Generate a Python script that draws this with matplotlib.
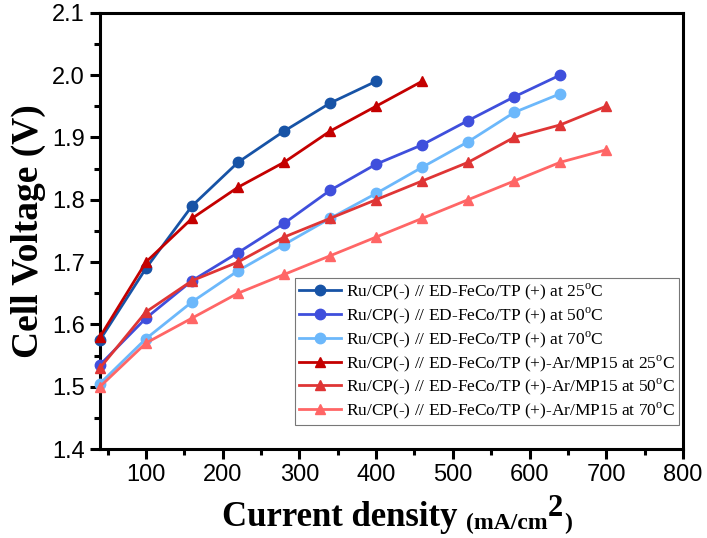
import numpy as np
import matplotlib
matplotlib.use("Agg")
import matplotlib.pyplot as plt
from matplotlib.ticker import MultipleLocator

# current density (mA/cm2)
x_all = [40, 100, 160, 220, 280, 340, 400, 460, 520, 580, 640, 700]

# cell voltage (V)
v_tp_25 = [1.575, 1.69, 1.79, 1.86, 1.91, 1.955, 1.99]
v_tp_50 = [1.535, 1.61, 1.67, 1.715, 1.762, 1.815, 1.857, 1.888, 1.927, 1.965, 2.0]
v_tp_70 = [1.505, 1.577, 1.636, 1.686, 1.728, 1.77, 1.81, 1.852, 1.893, 1.94, 1.97]
v_ar_25 = [1.58, 1.70, 1.77, 1.82, 1.86, 1.91, 1.95, 1.99]
v_ar_50 = [1.53, 1.62, 1.67, 1.70, 1.74, 1.77, 1.80, 1.83, 1.86, 1.90, 1.92, 1.95]
v_ar_70 = [1.50, 1.57, 1.61, 1.65, 1.68, 1.71, 1.74, 1.77, 1.80, 1.83, 1.86, 1.88]

labels = [
    r"Ru/CP(-) // ED-FeCo/TP (+) at 25$^{\rm o}$C",
    r"Ru/CP(-) // ED-FeCo/TP (+) at 50$^{\rm o}$C",
    r"Ru/CP(-) // ED-FeCo/TP (+) at 70$^{\rm o}$C",
    r"Ru/CP(-) // ED-FeCo/TP (+)-Ar/MP15 at 25$^{\rm o}$C",
    r"Ru/CP(-) // ED-FeCo/TP (+)-Ar/MP15 at 50$^{\rm o}$C",
    r"Ru/CP(-) // ED-FeCo/TP (+)-Ar/MP15 at 70$^{\rm o}$C",
]
series = [v_tp_25, v_tp_50, v_tp_70, v_ar_25, v_ar_50, v_ar_70]
colors = ["#1753a6", "#3f4fdc", "#6cb8fb", "#c40000", "#df3535", "#ff6666"]
markers = ["o", "o", "o", "^", "^", "^"]

plt.rcParams['mathtext.fontset'] = 'custom'
plt.rcParams['mathtext.rm'] = 'Liberation Serif'

fig = plt.figure(figsize=(7.07, 5.38), dpi=100)
ax = fig.add_axes([0.1414, 0.1654, 0.8246, 0.811])

for vals, lab, c, m in zip(series, labels, colors, markers):
    ax.plot(x_all[:len(vals)], vals, color=c, marker=m, markersize=7.5,
            linewidth=2.0, label=lab, clip_on=False, zorder=3)

ax.set_xlim(40, 800)
ax.set_ylim(1.4, 2.1)
ax.xaxis.set_minor_locator(MultipleLocator(50))
ax.yaxis.set_minor_locator(MultipleLocator(0.05))
ax.set_xticks(range(100, 801, 100))
ax.set_yticks(np.arange(1.4, 2.101, 0.1))
ax.set_yticklabels([f"{v:.1f}" for v in np.arange(1.4, 2.101, 0.1)])

for s in ax.spines.values():
    s.set_linewidth(2.2)
ax.tick_params(which='major', direction='out', length=7, width=2.2,
               labelsize=17, pad=4)
ax.tick_params(which='minor', direction='out', length=4, width=2.2)
for t in ax.get_xticklabels() + ax.get_yticklabels():
    t.set_fontfamily('Liberation Sans')

ax.set_ylabel("Cell Voltage (V)", fontsize=27, fontweight='bold',
              family='Liberation Serif', labelpad=4)

# x label with mixed sizes
t1 = fig.text(0.314, 0.022, "Current density ", fontsize=25, fontweight='bold',
              family='Liberation Serif', va='baseline')
t2 = ax.annotate("(mA/cm", xy=(1, 0), xycoords=t1, fontsize=17, fontweight='bold',
                 family='Liberation Serif', va='bottom', ha='left')
t3 = ax.annotate("2", xy=(1, 0.55), xycoords=t2, fontsize=22, fontweight='bold',
                 family='Liberation Serif', va='bottom', ha='left')
ax.annotate(")", xy=(1, 0), xycoords=t2, xytext=(12, 0), textcoords='offset points',
            fontsize=17, fontweight='bold', family='Liberation Serif',
            va='bottom', ha='left')

leg = ax.legend(loc='lower right', bbox_to_anchor=(0.993, 0.055), borderaxespad=0,
                prop={'family': 'Liberation Serif', 'size': 12.5},
                frameon=True, fancybox=False, handlelength=2.4,
                handletextpad=0.3, labelspacing=0.18, borderpad=0.22)
leg.get_frame().set_edgecolor('#555555')
leg.get_frame().set_linewidth(0.8)

fig.savefig("out.png", dpi=100)
